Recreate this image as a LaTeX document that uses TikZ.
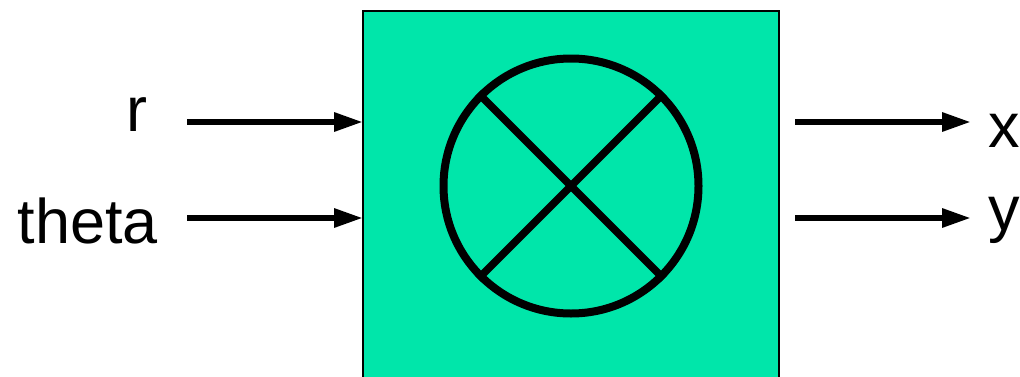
\documentclass[tikz,border=0pt]{standalone}
\usepackage{fontspec}
\setmainfont{Liberation Sans}
\usetikzlibrary{arrows.meta,positioning}

\begin{document}
\begin{tikzpicture}[
  x=1pt,y=1pt,
  >={Triangle[length=29pt,width=18pt]},
  block/.style={draw,line width=2pt,fill=blockgreen,minimum width=416pt,minimum height=420pt,inner sep=0pt},
  dial/.style={circle,draw,line width=8pt,minimum size=255pt,inner sep=0pt},
  signal/.style={font=\fontsize{63}{63}\selectfont,inner sep=0pt},
  flow/.style={->,line width=6pt}
]
  \definecolor{blockgreen}{RGB}{0,230,170}
  \clip (0,0) rectangle (1020,376);
  \node[block,anchor=north west] (mult) at (362,366) {};
  \node[dial] (dial) at (571,190) {};

  \draw[line width=7.5pt] (dial.45) -- (dial.225);
  \draw[line width=7.5pt] (dial.135) -- (dial.315);

  \node[signal,anchor=base east] (r) at (148,245) {r};
  \node[signal,anchor=base east] (theta) at (158,133) {theta};
  \node[signal,anchor=base west] (x) at (988,229) {x};
  \node[signal,anchor=base west] (y) at (988,146) {y};

  \coordinate (rin) at (187,254);
  \coordinate (thetain) at (187,158);
  \coordinate (xout) at (971,254);
  \coordinate (yout) at (971,158);
  \coordinate (xstart) at (795,254);
  \coordinate (ystart) at (795,158);

  \draw[flow,shorten >=-1pt] (rin) -- (rin -| mult.west);
  \draw[flow,shorten >=-1pt] (thetain) -- (thetain -| mult.west);
  \draw[flow] (xstart) -- (xout);
  \draw[flow] (ystart) -- (yout);
\end{tikzpicture}
\end{document}
